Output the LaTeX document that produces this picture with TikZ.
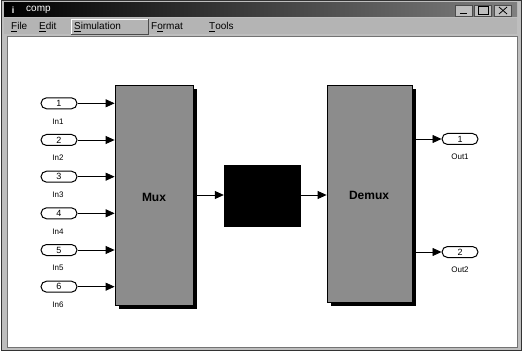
\documentclass[tikz,border=0pt]{standalone}
\usepackage{fontspec}
\setmainfont{Liberation Sans}
\usetikzlibrary{arrows.meta,shadows}
\definecolor{blkgray}{RGB}{140,140,140}
\definecolor{wingray}{RGB}{190,190,190}
\definecolor{menugray}{RGB}{180,180,180}
\tikzset{
  blockbox/.style={draw=black, line width=0.8pt, fill=blkgray, inner sep=0pt,
    drop shadow={shadow xshift=4pt, shadow yshift=-4pt, fill=black, opacity=1}},
  portbox/.style={draw=black, line width=1pt, rounded corners=5.5pt, fill=white,
    minimum width=36pt, minimum height=11pt, inner sep=0pt, font=\fontsize{9}{9}\selectfont},
  portlabel/.style={font=\fontsize{8}{8}\selectfont, inner sep=0pt},
  sig/.style={-{Triangle[length=9pt,width=8pt]}, line width=0.8pt},
  menutext/.style={font=\fontsize{10}{10}\selectfont, inner sep=0pt, anchor=west},
  btn/.style={draw=black!70, fill=wingray, line width=0.5pt, minimum width=17pt, minimum height=11pt, inner sep=0pt}
}
\begin{document}
\begin{tikzpicture}[x=1pt,y=-1pt]
\useasboundingbox (0,0) rectangle (526,352);
\fill[white] (0,0) rectangle (526,352);
% window frame
\draw[fill=wingray, draw=black!80, line width=1pt] (1,1) rectangle (521,350);
% title bar
\shade[left color=black, right color=black!50] (4,3) rectangle (517,17);
\node[text=white, font=\fontsize{9}{9}\selectfont\bfseries, inner sep=0pt] (icon) at (13,10) {i};
\node[text=white, font=\fontsize{10}{10}\selectfont, anchor=west, inner sep=0pt] (title) at (26,10) {comp};
\node[btn] (bmin) at (464,10.5) {};
\node[btn] (bmax) at (483,10.5) {};
\node[btn] (bclose) at (503,10.5) {};
\draw[line width=1.5pt] ([xshift=-4pt,yshift=-3pt]bmin.center) -- ([xshift=3pt,yshift=-3pt]bmin.center);
\draw[line width=0.8pt] ([xshift=-5pt,yshift=-4pt]bmax.center) rectangle ([xshift=5pt,yshift=4pt]bmax.center);
\draw[line width=0.8pt] ([xshift=-4pt,yshift=-3.5pt]bclose.center) -- ([xshift=4pt,yshift=3.5pt]bclose.center);
\draw[line width=0.8pt] ([xshift=-4pt,yshift=3.5pt]bclose.center) -- ([xshift=4pt,yshift=-3.5pt]bclose.center);
% menu bar
\fill[menugray] (4,18) rectangle (517,34);
\draw[black!70, line width=0.6pt] (71,19) rectangle (148,34);
\draw[white, line width=0.6pt] (71,34) -- (71,19) -- (148,19);
\node[menutext] (mfile) at (11,27) {\underline{F}ile};
\node[menutext] (medit) at (39,27) {\underline{E}dit};
\node[menutext] (msim) at (74,27) {\underline{S}imulation};
\node[menutext] (mfmt) at (151,27) {F\underline{o}rmat};
\node[menutext] (mtools) at (209,27) {\underline{T}ools};
% canvas
\draw[fill=white, draw=black!55, line width=0.6pt] (7,36) rectangle (517,347);
% blocks
\node[blockbox, minimum width=78pt, minimum height=220pt] (mux) at (154,195) {};
\node[font=\fontsize{12}{12}\selectfont\bfseries, inner sep=0pt] (muxl) at (154,197) {Mux};
\node[draw=black, fill=black, minimum width=76pt, minimum height=61pt, inner sep=0pt] (blk) at (262,196) {};
\node[blockbox, minimum width=85pt, minimum height=217pt] (demux) at (369.5,193.5) {};
\node[font=\fontsize{12}{12}\selectfont\bfseries, inner sep=0pt] (demuxl) at (369,195) {Demux};
% inports
\foreach \i/\yy in {1/103.3,2/140,3/176.7,4/213.3,5/250,6/286.7}{
  \node[portbox] (in\i) at (59,\yy) {\i};
  \node[portlabel] (inl\i) at (58,\yy+18) {In\i};
  \draw[sig] (in\i.east) -- (mux.west |- in\i.east);
}
% outports
\node[portbox] (out1) at (460,139) {1};
\node[portlabel] (outl1) at (460,157) {Out1};
\node[portbox] (out2) at (460,252) {2};
\node[portlabel] (outl2) at (460,270) {Out2};
\draw[sig] (demux.east |- out1.west) -- (out1.west);
\draw[sig] (demux.east |- out2.west) -- (out2.west);
% mux -> block -> demux
\draw[sig] (mux.east |- 0,195) -- (blk.west |- 0,195);
\draw[sig] (blk.east |- 0,195) -- (demux.west |- 0,195);
\end{tikzpicture}
\end{document}
